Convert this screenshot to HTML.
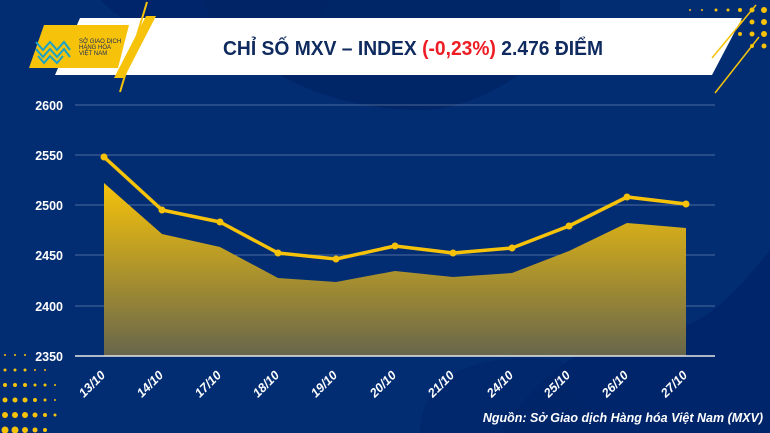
<!DOCTYPE html>
<html><head><meta charset="utf-8"><style>
html,body{margin:0;padding:0;width:770px;height:433px;overflow:hidden;background:#022d73;}
</style></head><body>
<svg width="770" height="433" viewBox="0 0 770 433" xmlns="http://www.w3.org/2000/svg" font-family="Liberation Sans, sans-serif">
<defs>
<linearGradient id="ar" x1="0" y1="0" x2="0" y2="1">
<stop offset="0" stop-color="#f6c20a"/><stop offset="1" stop-color="#67664c"/>
</linearGradient>
</defs>
<rect width="770" height="433" fill="#022d73"/>
<path d="M100 0 C140 40 200 50 260 45 C300 40 320 20 330 0 Z" fill="#01256a"/>
<path d="M200 0 C240 70 330 110 420 110 C470 110 520 80 560 40 L560 0 Z" fill="#012465" opacity="0.8"/>
<path d="M500 433 C540 370 600 330 660 330 C700 330 730 300 770 250 L770 433 Z" fill="#01256a"/>
<path d="M420 433 C420 380 470 350 560 360 L600 433 Z" fill="#01256a" opacity="0.7"/>
<g fill="#f6c20a">
<circle cx="5" cy="355" r="1"/><circle cx="15" cy="355" r="1"/><circle cx="25" cy="355" r="1"/>
<circle cx="5" cy="370" r="1.5"/><circle cx="15" cy="370" r="1.5"/><circle cx="25" cy="370" r="1.5"/><circle cx="35" cy="370" r="1"/><circle cx="45" cy="370" r="1"/>
<circle cx="5" cy="385" r="2"/><circle cx="15" cy="385" r="2"/><circle cx="25" cy="385" r="2"/><circle cx="35" cy="385" r="1.5"/><circle cx="45" cy="385" r="1.5"/><circle cx="55" cy="385" r="1"/>
<circle cx="5" cy="400" r="2.5"/><circle cx="15" cy="400" r="2.5"/><circle cx="25" cy="400" r="2.5"/><circle cx="35" cy="400" r="2"/><circle cx="45" cy="400" r="1.5"/><circle cx="55" cy="400" r="1"/>
<circle cx="5" cy="415" r="3"/><circle cx="15" cy="415" r="3"/><circle cx="25" cy="415" r="3"/><circle cx="35" cy="415" r="2.5"/><circle cx="45" cy="415" r="2"/><circle cx="55" cy="415" r="1.5"/>
<circle cx="5" cy="430" r="3.5"/><circle cx="15" cy="430" r="3.5"/><circle cx="25" cy="430" r="3"/><circle cx="35" cy="430" r="2.5"/><circle cx="45" cy="430" r="2"/>
<circle cx="690" cy="10" r="1"/><circle cx="702" cy="10" r="1"/><circle cx="716" cy="10" r="1.5"/><circle cx="728" cy="10" r="1.5"/><circle cx="740" cy="10" r="2"/><circle cx="752" cy="10" r="2.5"/><circle cx="764" cy="10" r="3"/>
<circle cx="704" cy="22" r="1"/><circle cx="716" cy="22" r="1.5"/><circle cx="728" cy="22" r="1.5"/><circle cx="740" cy="22" r="2"/><circle cx="752" cy="22" r="2.5"/><circle cx="764" cy="22" r="3"/>
<circle cx="740" cy="34" r="2"/><circle cx="752" cy="34" r="2.5"/><circle cx="764" cy="34" r="3"/>
<circle cx="752" cy="46" r="2"/><circle cx="764" cy="46" r="2.5"/>
</g>
<polygon points="80,18 742,18 712,75 55,75" fill="#ffffff"/>
<line x1="147" y1="2" x2="120" y2="92" stroke="#f6c20a" stroke-width="2"/>
<line x1="756" y1="5" x2="712" y2="58" stroke="#f6c20a" stroke-width="1.5"/>
<line x1="759" y1="37" x2="715" y2="93" stroke="#f6c20a" stroke-width="1.5"/>
<polygon points="44,25 129,25 118,68 29,68" fill="#f6c20a"/>
<polygon points="146,16 156,16 124,78 114,78" fill="#f6c20a"/>
<g stroke="#1aa3c8" stroke-width="2" fill="none">
<path d="M36 42 L43 50 L50 42 L57 50 L64 42 L70 50"/>
<path d="M36 49 L43 57 L50 49 L57 57 L64 49 L70 57"/>
<path d="M38 56 L44 63 L50 56 L57 63 L63 56"/>
</g>
<text x="79" y="43" font-size="6" fill="#1a2a5c">SỞ GIAO DỊCH</text>
<text x="79" y="49" font-size="6" fill="#1a2a5c">HÀNG HÓA</text>
<text x="79" y="55" font-size="6" fill="#1a2a5c">VIỆT NAM</text>
<text x="413" y="55" font-size="20" font-weight="bold" fill="#0f2a5e" text-anchor="middle" textLength="380" lengthAdjust="spacingAndGlyphs">CHỈ SỐ MXV – INDEX <tspan fill="#ee1c24">(-0,23%)</tspan> 2.476 ĐIỂM</text>
<g stroke="#ffffff" stroke-opacity="0.3" stroke-width="1">
<line x1="75" y1="105" x2="715" y2="105"/><line x1="75" y1="155" x2="715" y2="155"/>
<line x1="75" y1="205" x2="715" y2="205"/><line x1="75" y1="255" x2="715" y2="255"/>
<line x1="75" y1="306" x2="715" y2="306"/>
</g>
<g font-size="12.5" font-weight="bold" fill="#fff" text-anchor="end">
<text x="63" y="110">2600</text><text x="63" y="160">2550</text><text x="63" y="210">2500</text>
<text x="63" y="260">2450</text><text x="63" y="311">2400</text><text x="63" y="361">2350</text>
</g>
<polygon points="104,183 162,234 220,247 278,278 336,282 395,271 453,277 512,273 569,251 627,223 686,228 686,356 104,356" fill="url(#ar)"/>
<line x1="75" y1="356" x2="715" y2="356" stroke="#e8e8e8" stroke-width="1.5"/>
<polyline points="104,157 162,210 220,222 278,253 336,259 395,246 453,253 512,248 569,226 627,197 686,204" fill="none" stroke="#f6c20a" stroke-width="3.5" stroke-linejoin="round"/>
<g fill="#f6c20a">
<circle cx="104" cy="157" r="3.5"/><circle cx="162" cy="210" r="3.5"/><circle cx="220" cy="222" r="3.5"/><circle cx="278" cy="253" r="3.5"/><circle cx="336" cy="259" r="3.5"/><circle cx="395" cy="246" r="3.5"/><circle cx="453" cy="253" r="3.5"/><circle cx="512" cy="248" r="3.5"/><circle cx="569" cy="226" r="3.5"/><circle cx="627" cy="197" r="3.5"/><circle cx="686" cy="204" r="3.5"/>
</g>
<g font-size="12.5" font-weight="bold" font-style="italic" fill="#fff" text-anchor="end">
<text transform="translate(106,376) rotate(-45)">13/10</text>
<text transform="translate(164,376) rotate(-45)">14/10</text>
<text transform="translate(222,376) rotate(-45)">17/10</text>
<text transform="translate(280,376) rotate(-45)">18/10</text>
<text transform="translate(338,376) rotate(-45)">19/10</text>
<text transform="translate(397,376) rotate(-45)">20/10</text>
<text transform="translate(455,376) rotate(-45)">21/10</text>
<text transform="translate(514,376) rotate(-45)">24/10</text>
<text transform="translate(571,376) rotate(-45)">25/10</text>
<text transform="translate(629,376) rotate(-45)">26/10</text>
<text transform="translate(688,376) rotate(-45)">27/10</text>
</g>
<text x="763" y="422" font-size="12.5" font-weight="bold" font-style="italic" fill="#fff" text-anchor="end">Nguồn: Sở Giao dịch Hàng hóa Việt Nam (MXV)</text>
</svg>
</body></html>
